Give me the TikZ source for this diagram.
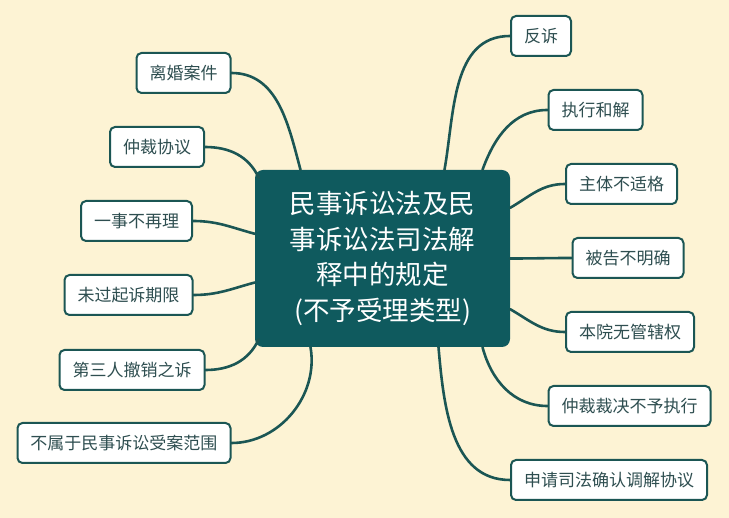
\documentclass[tikz,border=0pt]{standalone}
\usepackage{fontspec}
\setmainfont{Noto Sans CJK SC}
\definecolor{bgyellow}{HTML}{FDF3D4}
\definecolor{darkteal}{HTML}{0F5A5E}
\definecolor{edgeteal}{HTML}{1B5654}
\definecolor{leaftext}{HTML}{2E4E50}
\begin{document}
\begin{tikzpicture}[x=1pt,y=-1pt,
    leaf/.style={draw=edgeteal,line width=2pt,rounded corners=5pt,fill=white,
      text=leaftext,font=\fontsize{17}{20}\selectfont,inner xsep=13pt,
      minimum height=40pt},
    root/.style={fill=darkteal,rounded corners=8pt,text=white,align=center,
      font=\fontsize{26.5}{35.5}\selectfont,minimum width=255pt,minimum height=177pt},
    branch/.style={draw=edgeteal,line width=2.6pt,line cap=round}]
  \fill[bgyellow] (0,0) rectangle (729,518);
  \draw
    (382.5,258.5) node[root] (main){民事诉讼法及民\\事诉讼法司法解\\释中的规定\\(不予受理类型)}
    (183.5,73) node[leaf] (divorce){离婚案件}
    (157,147) node[leaf] (arbagree){仲裁协议}
    (136.5,221) node[leaf] (nobis){一事不再理}
    (128.5,295) node[leaf] (period){未过起诉期限}
    (132,370) node[leaf] (thirdparty){第三人撤销之诉}
    (124,443) node[leaf] (scope){不属于民事诉讼受案范围}
    (541,36) node[leaf] (counter){反诉}
    (595.5,110) node[leaf] (settle){执行和解}
    (621.5,184) node[leaf] (subject){主体不适格}
    (628,258) node[leaf] (defendant){被告不明确}
    (630,332) node[leaf] (juris){本院无管辖权}
    (629.5,406) node[leaf] (award){仲裁裁决不予执行}
    (609,480) node[leaf] (confirm){申请司法确认调解协议};
  \begin{scope}[branch]
    \draw (divorce.east) to[out=0,in=105] ([xshift=-82pt]main.north);
    \draw (arbagree.east) to[out=0,in=115] ([xshift=4pt,yshift=-8pt]main.north west);
    \draw (nobis.east) to[out=0,in=165] ([yshift=-64pt]main.north west);
    \draw (period.east) to[out=0,in=195] ([yshift=-24pt]main.west);
    \draw (thirdparty.east) to[out=0,in=-115] ([xshift=4pt,yshift=8pt]main.south west);
    \draw (scope.east) to[out=0,in=-80] ([xshift=-72pt]main.south);
    \draw (counter.west) to[out=180,in=80] ([xshift=62pt]main.north);
    \draw (settle.west) to[out=180,in=70] ([xshift=100pt]main.north);
    \draw (subject.west) to[out=180,in=30] ([yshift=-38pt]main.north east);
    \draw (defendant.west) to[out=180,in=0] (main.east);
    \draw (juris.west) to[out=180,in=-30] ([yshift=38pt]main.south east);
    \draw (award.west) to[out=180,in=-75] ([xshift=100pt]main.south);
    \draw (confirm.west) to[out=180,in=-85] ([xshift=56pt]main.south);
  \end{scope}
\end{tikzpicture}
\end{document}
